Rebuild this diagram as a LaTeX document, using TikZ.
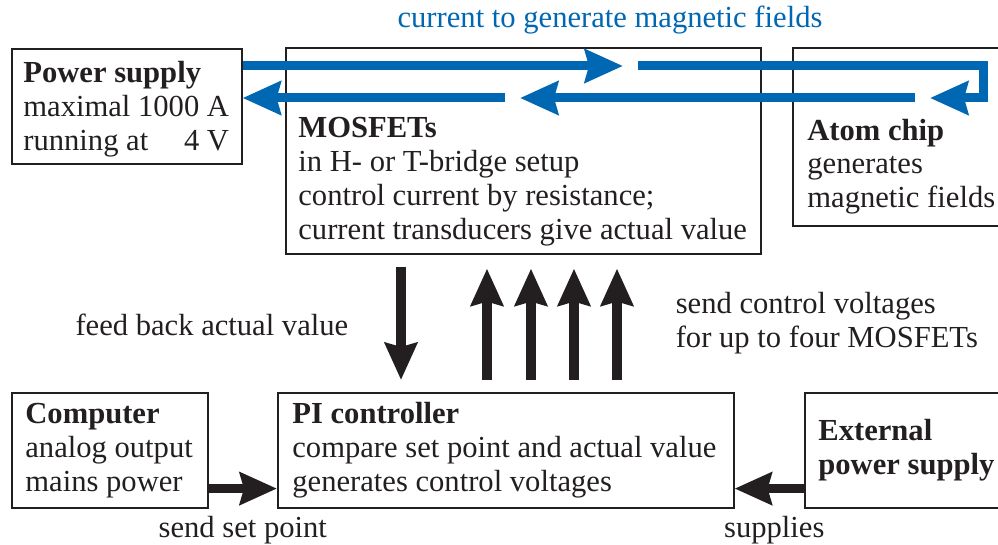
\documentclass[tikz,border=0pt]{standalone}
\usepackage{fontspec}
\setmainfont{Liberation Serif}
\usetikzlibrary{arrows.meta,positioning,calc}
\definecolor{chipblue}{RGB}{0,103,178}
\definecolor{ink}{RGB}{35,31,32}

\begin{document}
\begin{tikzpicture}[x=0.5pt, y=-0.5pt,
  every node/.style={font=\fontsize{15.3}{17}\selectfont, text=ink},
  box/.style={draw=ink, line width=0.8pt, anchor=north west, inner sep=0pt},
  txt/.style={anchor=north west, inner sep=0pt, align=left},
  lbl/.style={inner sep=0pt, align=left},
  current/.style={draw=chipblue, line width=4.5pt, -{Stealth[length=19pt,width=16.5pt,inset=2pt]}},
  arrow/.style={draw=ink, line width=4.8pt, -{Stealth[length=18.5pt,width=16pt,inset=2pt]}}]
  \clip (0,0) rectangle (998,545);
  % boxes
  \node[box, minimum width=115pt, minimum height=57.5pt] (psu) at (11,48) {};
  \node[box, minimum width=237.5pt, minimum height=103pt] (mosfet) at (285,47) {};
  \node[box, minimum width=109pt, minimum height=89pt] (chip) at (792,47) {};
  \node[box, minimum width=98pt, minimum height=57.5pt] (comp) at (11,392) {};
  \node[box, minimum width=228pt, minimum height=57.5pt] (pic) at (277,392) {};
  \node[box, minimum width=103pt, minimum height=57.5pt] (ext) at (804,392) {};
  % box texts
  \node[txt] (psutxt) at ([shift={(12,10)}]psu.north west)
    {\begin{tabular}{@{}l@{}}\textbf{Power supply}\\ maximal 1000 A\\ running at\hfill 4 V\end{tabular}};
  \node[txt] (mosfettxt) at ([shift={(13,70)}]mosfet.north west)
    {\textbf{MOSFETs}\\ in H- or T-bridge setup\\ control current by resistance;\\ current transducers give actual value};
  \node[txt, font=\fontsize{15.3}{16.6}\selectfont] (chiptxt) at ([shift={(15,72)}]chip.north west)
    {\textbf{Atom chip}\\ generates\\ magnetic fields};
  \node[txt] (comptxt) at ([shift={(14,11)}]comp.north west)
    {\textbf{Computer}\\ analog output\\ mains power};
  \node[txt] (pictxt) at ([shift={(15,10)}]pic.north west)
    {\textbf{PI controller}\\ compare set point and actual value\\ generates control voltages};
  \node[txt] (exttxt) at ([shift={(14,27)}]ext.north west)
    {\textbf{External}\\ \textbf{power supply}};
  % current loop
  \node[text=chipblue] (title) at (610,20) {current to generate magnetic fields};
  \coordinate (outA) at ([yshift=-9pt]psu.north east);
  \coordinate (backA) at ([yshift=-25pt]psu.north east);
  \coordinate (fwd1) at (623,66);
  \coordinate (fwd2) at (638,66);
  \coordinate (loopR) at (983,98);
  \coordinate (ret1) at (930,98);
  \coordinate (ret2) at (915,98);
  \coordinate (ret3) at (520,98);
  \coordinate (ret4) at (505,98);
  \draw[current] (outA) -- (fwd1);
  \draw[current] (fwd2) -| (loopR) -- (ret1);
  \draw[current] (ret2) -- (ret3);
  \draw[current] (ret4) -- (backA);
  % feedback and control voltages
  \draw[arrow, shorten <=6pt, shorten >=6pt] (mosfet.south -| 401,0) -- (pic.north -| 401,0)
    node[lbl, midway, left=24pt, yshift=-1pt] {feed back actual value};
  \foreach \x in {487,531,574}
    \draw[arrow, shorten <=6pt, shorten >=7pt] (pic.north -| \x,0) -- (mosfet.south -| \x,0);
  \draw[arrow, shorten <=6pt, shorten >=7pt] (pic.north -| 617,0) -- (mosfet.south -| 617,0)
    node[lbl, midway, right=27pt] {send control voltages\\ for up to four MOSFETs};
  % inputs of the controller
  \coordinate (setpt) at ([yshift=10pt]comp.south east);
  \coordinate (supply) at ([yshift=10pt]ext.south west);
  \draw[arrow] (setpt) -- (setpt -| pic.west) node[lbl, midway, below=11.5pt] {send set point};
  \draw[arrow] (supply) -- (supply -| pic.east) node[lbl, midway, below=11.5pt, xshift=2.5pt] {supplies};
\end{tikzpicture}
\end{document}
